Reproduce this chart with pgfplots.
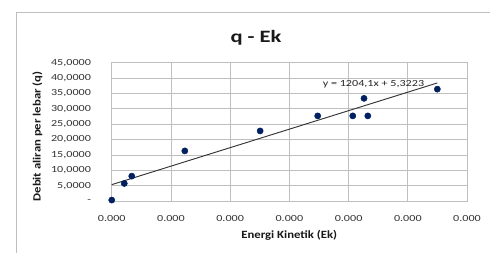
\documentclass[border=0pt]{standalone}
\usepackage{fontspec}
\usepackage{pgfplots}
\pgfplotsset{compat=1.18}
\setmainfont{Carlito}
\newfontfamily\tickfont[FakeStretch=1.3]{Carlito}
\newfontfamily\labfont[FakeStretch=1.15]{Carlito}
\newfontfamily\titfont[FakeStretch=1.3]{Carlito}
\definecolor{ptblue}{RGB}{0,32,96}
\definecolor{gridc}{RGB}{191,191,191}
\definecolor{borderc}{RGB}{190,190,190}
\begin{document}
\begin{tikzpicture}
\useasboundingbox (0,0) rectangle (367.5pt,189.75pt);
\draw[borderc, line width=0.75pt] (12pt,-1pt) -- (12pt,180pt) -- (368pt,180pt);
\begin{axis}[
  at={(83.8pt,39pt)}, anchor=south west,
  width=266.5pt, height=103.7pt, scale only axis,
  xmin=0, xmax=0.03, ymin=0, ymax=45,
  xtick={0,0.005,0.01,0.015,0.02,0.025,0.03},
  xticklabels={0.000,0.000,0.000,0.000,0.000,0.000,0.000},
  ytick={0,5,10,15,20,25,30,35,40,45},
  yticklabels={-\hspace{4.5pt},{5,0000},{10,0000},{15,0000},{20,0000},{25,0000},{30,0000},{35,0000},{40,0000},{45,0000}},
  scaled x ticks=false,
  major tick length=0pt,
  grid=major,
  grid style={gridc, line width=0.6pt},
  axis line style={gridc, line width=0.6pt},
  tick label style={font=\tickfont\fontsize{7pt}{8pt}\selectfont, text=black!80},
  yticklabel style={xshift=-12pt},
  xticklabel style={yshift=-7pt},
  clip=false,
]
\addplot[only marks, mark=*, mark size=2.3pt, mark options={fill=ptblue, draw=ptblue}] coordinates {
  (0.0000,0.3) (0.00106,5.7) (0.00169,8.1) (0.00617,16.3)
  (0.01253,22.8) (0.01739,27.7) (0.02035,27.7) (0.02130,33.4)
  (0.02162,27.7) (0.02749,36.4)
};
\addplot[black!80, line width=0.7pt] coordinates {(0,5.3223) (0.02749,38.42)};
\node[font=\tickfont\fontsize{7pt}{8pt}\selectfont, text=black!85] at (axis cs:0.0221,37.9) {y = 1204,1x + 5,3223};
\end{axis}
\node[anchor=base, font=\titfont\bfseries\fontsize{13pt}{15pt}\selectfont, text=black!90] at (192pt,158pt) {q - Ek};
\node[anchor=base, font=\labfont\bfseries\fontsize{8.3pt}{10pt}\selectfont, text=black!90] at (216.9pt,10.8pt) {Energi Kinetik (Ek)};
\node[rotate=90, font=\labfont\bfseries\fontsize{8.3pt}{10pt}\selectfont, text=black!90] at (28pt,87.4pt) {Debit aliran per lebar (q)};
\end{tikzpicture}
\end{document}
